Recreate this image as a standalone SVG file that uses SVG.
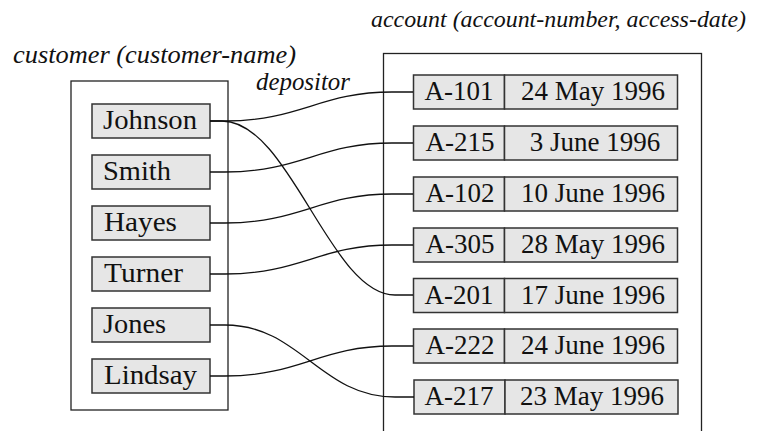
<svg xmlns="http://www.w3.org/2000/svg" width="759" height="431" viewBox="0 0 759 431">
<style>
.bg{fill:#ffffff}
.outer{fill:none;stroke:#222;stroke-width:1.3}
.cell{fill:#e6e6e6;stroke:#333;stroke-width:1.5}
.t{font-family:"Liberation Serif","DejaVu Serif","Times New Roman",serif;font-size:27px;fill:#111}
.lbl{font-family:"Liberation Serif","DejaVu Serif","Times New Roman",serif;font-size:26px;font-style:italic;fill:#111}
.m{text-anchor:middle}
.conn path{fill:none;stroke:#111;stroke-width:1.3}
</style>
<rect class="bg" x="0" y="0" width="759" height="431"/>
<g id="labels">
<text class="lbl" x="13" y="63" textLength="283" lengthAdjust="spacingAndGlyphs">customer (customer-name)</text>
<text class="lbl" x="371" y="27" style="font-size:24px" textLength="375" lengthAdjust="spacingAndGlyphs">account (account-number, access-date)</text>
<text class="lbl" x="256" y="90" textLength="94" lengthAdjust="spacingAndGlyphs">depositor</text>
</g>
<g id="customer">
<rect class="outer" x="71" y="81" width="157" height="329"/>
</g>
<g id="account">
<rect class="outer" x="383.5" y="53.5" width="318" height="390"/>
</g>
<g id="c-johnson"><rect class="cell" x="92" y="104" width="118" height="34"/><text class="t" x="103" y="129" textLength="94" lengthAdjust="spacingAndGlyphs">Johnson</text></g>
<g id="c-smith"><rect class="cell" x="92" y="155" width="118" height="34"/><text class="t" x="103" y="180" textLength="68" lengthAdjust="spacingAndGlyphs">Smith</text></g>
<g id="c-hayes"><rect class="cell" x="92" y="206" width="118" height="34"/><text class="t" x="104" y="231" textLength="73" lengthAdjust="spacingAndGlyphs">Hayes</text></g>
<g id="c-turner"><rect class="cell" x="92" y="257" width="118" height="34"/><text class="t" x="104" y="282" textLength="79" lengthAdjust="spacingAndGlyphs">Turner</text></g>
<g id="c-jones"><rect class="cell" x="92" y="308" width="118" height="34"/><text class="t" x="103" y="333" textLength="63" lengthAdjust="spacingAndGlyphs">Jones</text></g>
<g id="c-lindsay"><rect class="cell" x="92" y="359" width="118" height="34"/><text class="t" x="104" y="384" textLength="93" lengthAdjust="spacingAndGlyphs">Lindsay</text></g>
<g id="a-101"><rect class="cell" x="413.5" y="75" width="91" height="34"/><rect class="cell" x="504.5" y="75" width="173" height="34"/><text class="t m" x="459" y="100">A-101</text><text class="t m" x="593" y="100">24 May 1996</text></g>
<g id="a-215"><rect class="cell" x="413.5" y="126" width="91" height="34"/><rect class="cell" x="504.5" y="126" width="173" height="34"/><text class="t m" x="460" y="151">A-215</text><text class="t m" x="595" y="151">3 June 1996</text></g>
<g id="a-102"><rect class="cell" x="413.5" y="177" width="91" height="34"/><rect class="cell" x="504.5" y="177" width="173" height="34"/><text class="t m" x="460" y="202">A-102</text><text class="t m" x="593" y="202">10 June 1996</text></g>
<g id="a-305"><rect class="cell" x="413.5" y="228" width="91" height="34"/><rect class="cell" x="504.5" y="228" width="173" height="34"/><text class="t m" x="460" y="253">A-305</text><text class="t m" x="593" y="253">28 May 1996</text></g>
<g id="a-201"><rect class="cell" x="413.5" y="278.5" width="91" height="34"/><rect class="cell" x="504.5" y="278.5" width="173" height="34"/><text class="t m" x="459" y="303.5">A-201</text><text class="t m" x="593" y="303.5">17 June 1996</text></g>
<g id="a-222"><rect class="cell" x="413.5" y="329" width="91" height="34"/><rect class="cell" x="504.5" y="329" width="173" height="34"/><text class="t m" x="460" y="354">A-222</text><text class="t m" x="593" y="354">24 June 1996</text></g>
<g id="a-217"><rect class="cell" x="414" y="380" width="91" height="34"/><rect class="cell" x="505" y="380" width="173" height="34"/><text class="t m" x="459" y="405">A-217</text><text class="t m" x="592" y="405">23 May 1996</text></g>
<g id="connectors" class="conn">
<path d="M210,121 H225 C300,121 320,92 392,92 H413"/>
<path d="M210,121 H222 C290,121 330,295 395,295 H413"/>
<path d="M210,172 H225 C300,172 320,143 392,143 H413"/>
<path d="M210,223 H225 C300,223 320,194 392,194 H413"/>
<path d="M210,274 H225 C300,274 320,245 392,245 H413"/>
<path d="M210,325 H225 C300,325 320,397 395,397 H414"/>
<path d="M210,376 H225 C300,376 320,346 392,346 H413"/>
</g>
</svg>
